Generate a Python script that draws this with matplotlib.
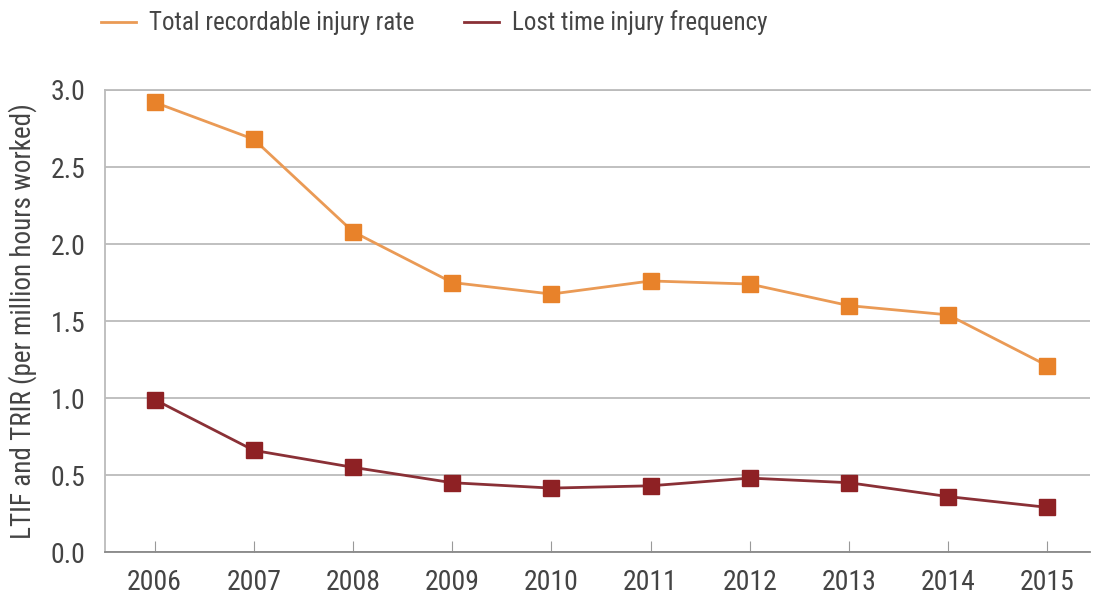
import matplotlib
matplotlib.use("Agg")
from matplotlib import pyplot as plt
from matplotlib.lines import Line2D

# Données
years = [2006, 2007, 2008, 2009, 2010, 2011, 2012, 2013, 2014, 2015]
trir = [2.92, 2.68, 2.08, 1.75, 1.675, 1.76, 1.74, 1.60, 1.54, 1.21]
ltif = [0.99, 0.66, 0.55, 0.45, 0.415, 0.43, 0.48, 0.45, 0.36, 0.29]
y_ticks = [0.0, 0.5, 1.0, 1.5, 2.0, 2.5, 3.0]
series_names = ["Total recordable injury rate", "Lost time injury frequency"]

orange = "#E8822A"
orange_line = "#EA9A55"
red = "#8E2124"
red_line = "#8A3036"
text_col = "#444444"

# police étroite (type DIN condensé), sinon DejaVu
plt.rcParams['font.family'] = ['Roboto Condensed', 'Archivo Narrow', 'DejaVu Sans']

fig = plt.figure(figsize=(10.96, 5.98), dpi=100)
ax = fig.add_axes([0.0958, 0.0769, 0.8987, 0.7726])

ax.plot(years, trir, color=orange_line, lw=2, zorder=3)
ax.plot(years, trir, ls="none", marker="s", ms=11, mfc=orange, mec=orange, zorder=4)
ax.plot(years, ltif, color=red_line, lw=2, zorder=3)
ax.plot(years, ltif, ls="none", marker="s", ms=11, mfc=red, mec=red, zorder=4)

ax.set_xlim(2005.5, 2015.43)
ax.set_ylim(0, 3.0)
ax.set_yticks(y_ticks)
ax.set_yticklabels([f"{v:.1f}" for v in y_ticks])
ax.set_xticks(years)
ax.set_xticklabels([str(y) for y in years])
ax.grid(axis='y', color="#BBBBBB", lw=1.3)
ax.set_axisbelow(True)

for s in ["top", "left"]:
    ax.spines[s].set_color("#BBBBBB")
    ax.spines[s].set_linewidth(1.3)
ax.spines["right"].set_visible(False)
ax.spines["bottom"].set_color("#888888")
ax.spines["bottom"].set_linewidth(1.3)

ax.tick_params(axis='x', direction='in', length=8, color="#999999", labelsize=20,
               labelcolor=text_col, pad=12)
ax.tick_params(axis='y', length=0, labelsize=20, labelcolor=text_col, pad=14)

ax.set_ylabel("LTIF and TRIR (per million hours worked)", fontsize=19.5, color=text_col, labelpad=10)

handles = [Line2D([0], [0], color=orange_line, lw=2),
           Line2D([0], [0], color=red_line, lw=2)]
fig.legend(handles, series_names, loc="upper left", bbox_to_anchor=(0.072, 1.02),
           ncol=2, frameon=False, fontsize=18, handlelength=1.4, handletextpad=0.5,
           columnspacing=2.0, labelcolor=text_col)

fig.savefig("out.png", dpi=100)
